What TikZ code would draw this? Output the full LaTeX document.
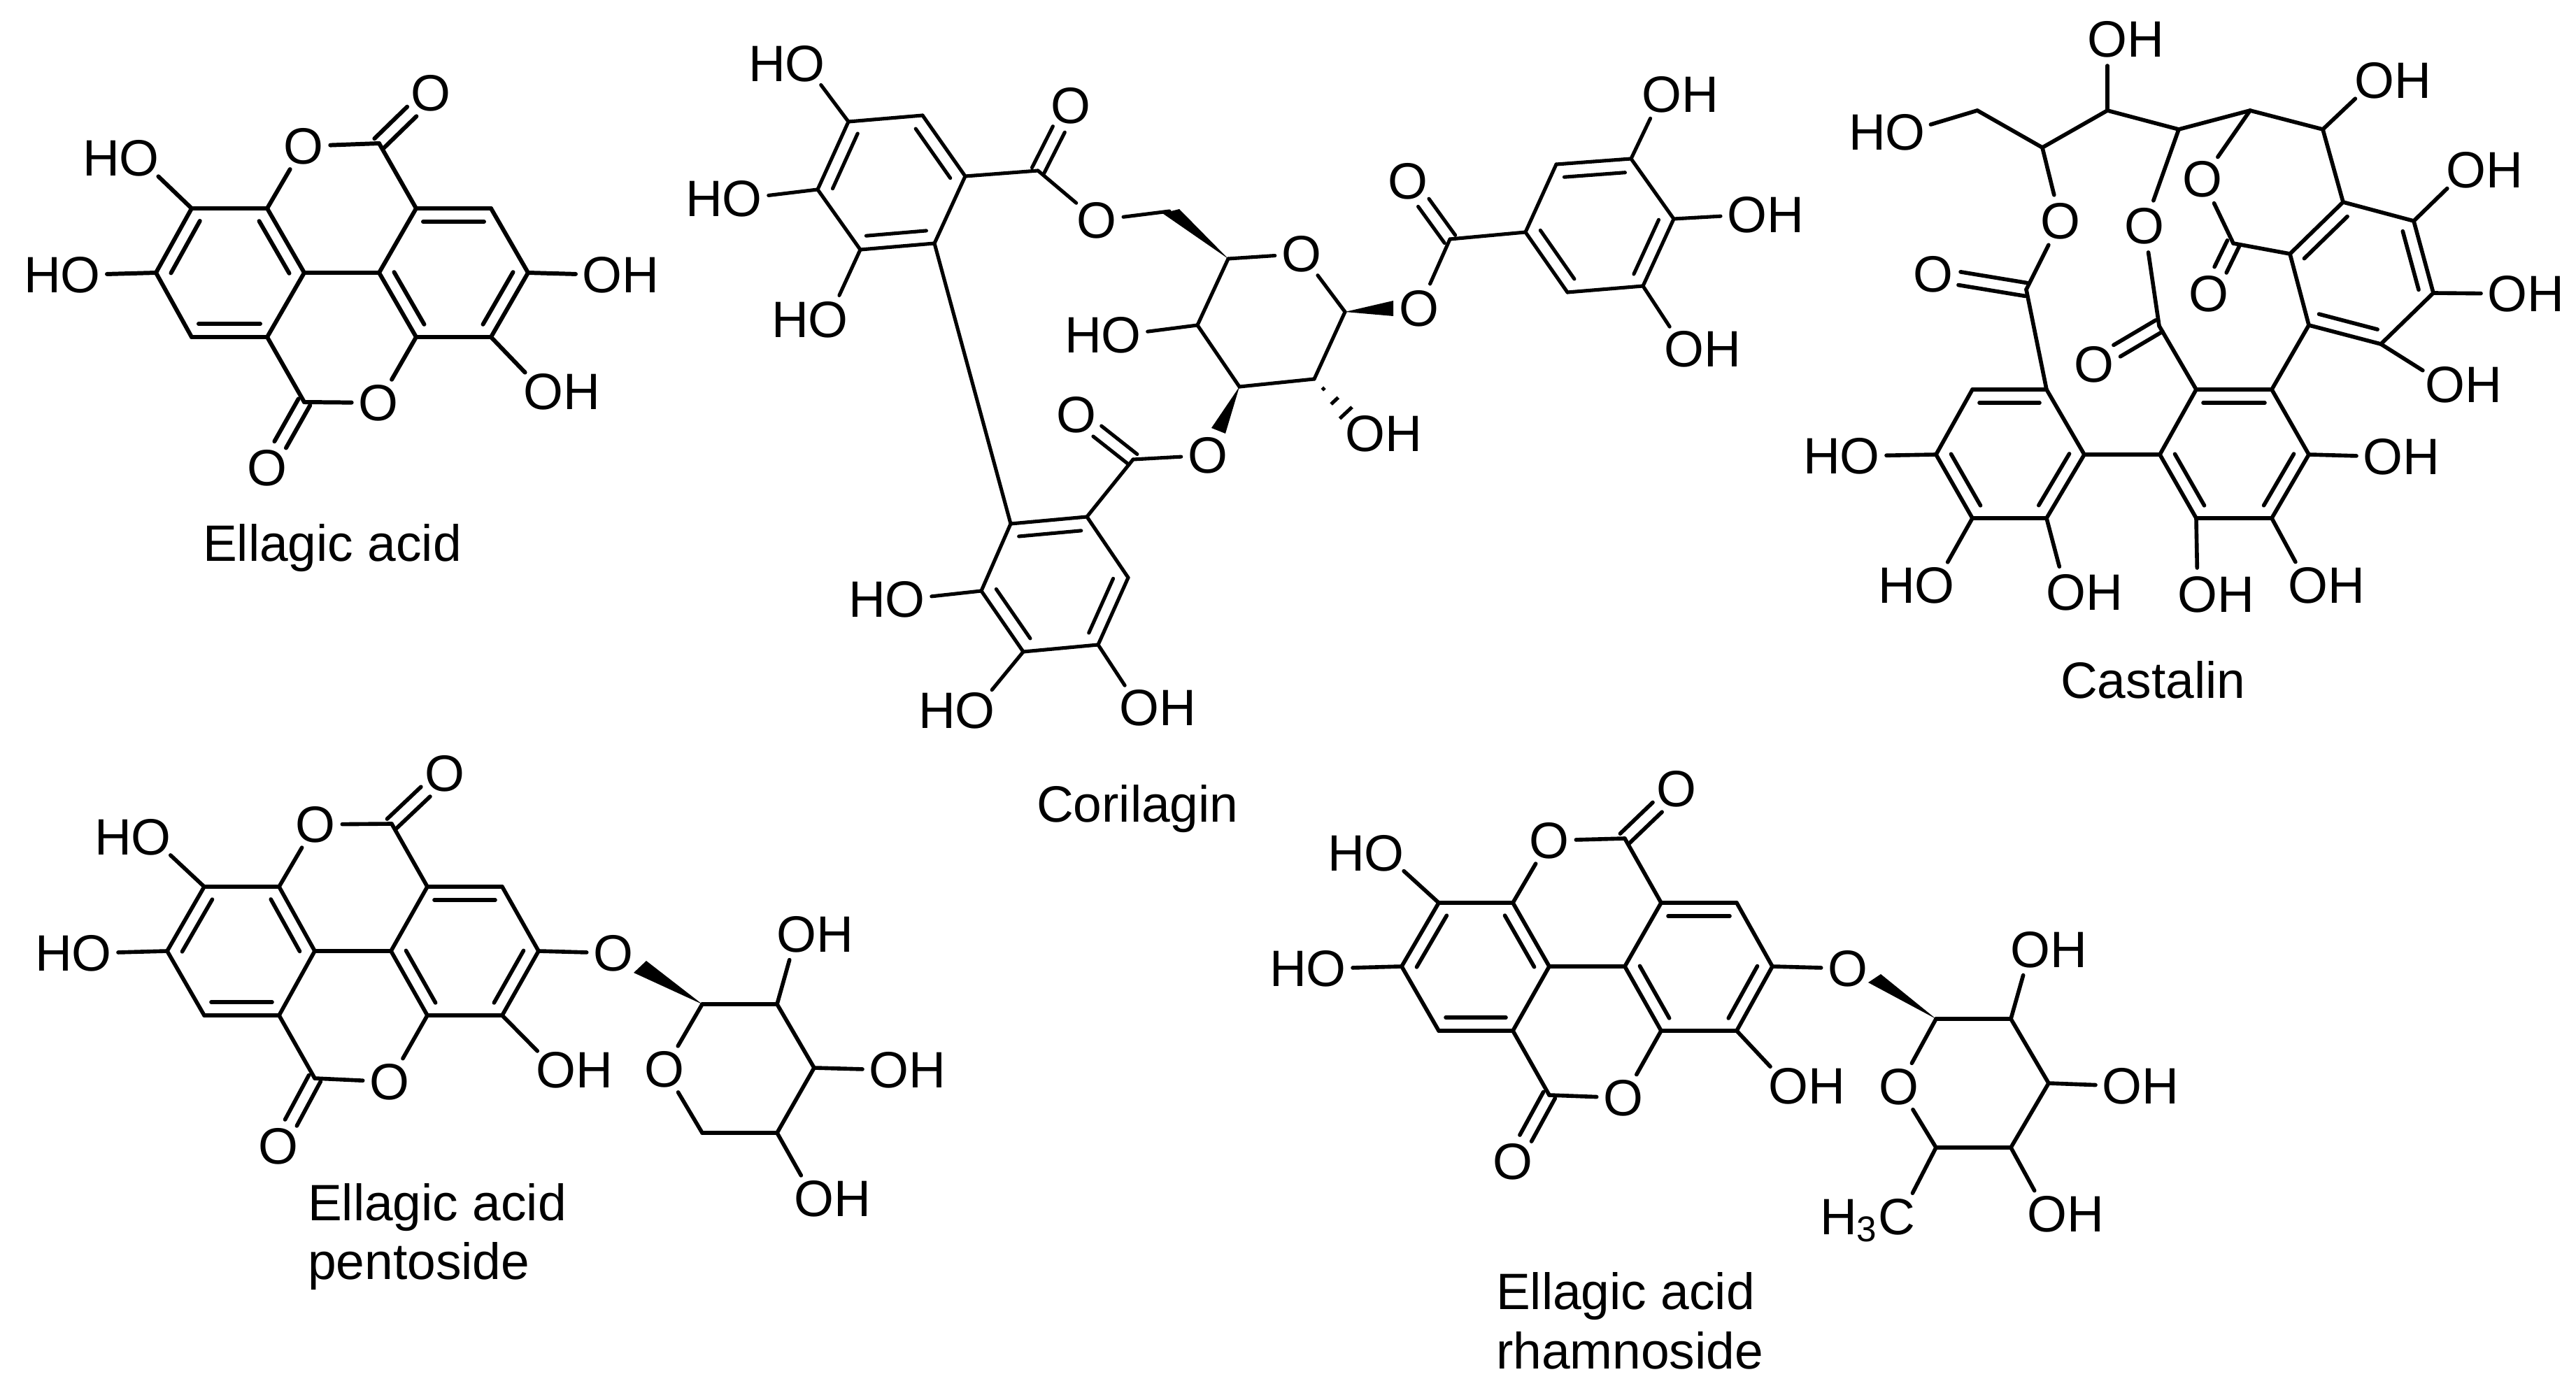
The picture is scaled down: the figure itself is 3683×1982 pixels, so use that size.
\documentclass[tikz,border=0pt]{standalone}
\usepackage{fontspec}
\setmainfont{Liberation Sans}
\usetikzlibrary{calc}
\tikzset{
  bond/.style={line width=1.6pt,line cap=round,line join=round},
  atomgap/.style={circle,inner sep=0pt,outer sep=0pt,minimum size=0.76cm},
  chem/.style={font=\fontsize{20.8}{24}\selectfont,inner sep=0pt,outer sep=0pt},
  caption/.style={font=\fontsize{20.8}{24}\selectfont,inner sep=0pt,outer sep=0pt,anchor=base west},
  wedgefill/.style={fill=black,draw=none}
}
\newcommand\vt[3]{\coordinate (#1) at (#2,#3);}
\newcommand\Oat[3]{\node[chem,atomgap] (#1) at (#2,#3) {O};}
\newcommand\OHat[3]{\node[atomgap] (#1) at (#2,#3) {};\node[chem,xshift=.26cm] (#1t) at (#2,#3) {OH};}
\newcommand\HOat[3]{\node[atomgap] (#1) at (#2,#3) {};\node[chem,xshift=-.26cm] (#1t) at (#2,#3) {HO};}
\newcommand\bd[2]{\draw[bond] (#1) -- (#2);}
\newcommand\ib[2]{\draw[bond,shorten <=.1cm,shorten >=.1cm] ($(#1)!.19cm!-90:(#2)$) -- ($(#2)!.19cm!90:(#1)$);}
\newcommand\dbo[2]{%
  \draw[bond,shorten >=.38cm] ($(#1.center)!.095cm!90:(#2.center)$) -- ($(#2.center)!.095cm!-90:(#1.center)$);%
  \draw[bond,shorten >=.38cm] ($(#1.center)!.095cm!-90:(#2.center)$) -- ($(#2.center)!.095cm!90:(#1.center)$);}
\newcommand\EAbonds[1]{%
  \bd{#1A}{#1B}\bd{#1B}{#1C}\bd{#1C}{#1D}\bd{#1D}{#1E}\bd{#1E}{#1F}\bd{#1F}{#1A}%
  \ib{#1F}{#1A}\ib{#1B}{#1C}\ib{#1D}{#1E}%
  \bd{#1G}{#1H}\bd{#1H}{#1I}\bd{#1I}{#1J}\bd{#1J}{#1K}\bd{#1K}{#1L}\bd{#1L}{#1G}%
  \ib{#1G}{#1H}\ib{#1I}{#1J}\ib{#1K}{#1L}%
  \bd{#1C}{#1L}%
  \bd{#1B}{#1Oa}\bd{#1Oa}{#1Ca}\bd{#1Ca}{#1G}\dbo{#1Ca}{#1Oc}%
  \bd{#1K}{#1Ob}\bd{#1Ob}{#1Cb}\bd{#1Cb}{#1D}\dbo{#1Cb}{#1Od}%
  \bd{#1A}{#1HOa}\bd{#1F}{#1HOb}\bd{#1J}{#1OHb}}
\begin{document}
\begin{tikzpicture}[x=0.01cm,y=-0.01cm]
\fill[white] (0,0) rectangle (3683,1982);
\useasboundingbox (0,0) rectangle (3683,1982);

% ---------- Ellagic acid
\begin{scope}[bond/.append style={line width=1.7pt}]
\vt{eA}{274}{298}\vt{eB}{382}{298}\vt{eC}{435}{390}\vt{eD}{382}{482}\vt{eE}{274}{482}\vt{eF}{223}{390}
\vt{eG}{595}{298}\vt{eH}{702}{298}\vt{eI}{755}{390}\vt{eJ}{702}{482}\vt{eK}{595}{482}\vt{eL}{542}{390}
\vt{eCa}{542}{205}\vt{eCb}{435}{575}
\Oat{eOa}{434}{209}\Oat{eOb}{541}{576}\Oat{eOc}{616}{133}\Oat{eOd}{382}{669}
\HOat{eHOa}{199}{226}\HOat{eHOb}{115}{393}\OHat{eOHa}{861}{393}\OHat{eOHb}{777}{560}
\EAbonds{e}
\bd{eI}{eOHa}
\end{scope}
\node[caption] (ecap) at (290,802) {Ellagic acid};

% ---------- Corilagin
\begin{scope}[bond/.append style={line width=1.45pt}]
\vt{ca}{1213}{174}\vt{cb}{1319}{165}\vt{cc}{1380}{252}\vt{cd}{1336}{348}\vt{ce}{1230}{357}\vt{cf}{1169}{271}
\vt{cg}{1445}{749}\vt{ch}{1554}{739}\vt{ci}{1613}{826}\vt{cj}{1570}{922}\vt{ck}{1463}{932}\vt{cl}{1403}{845}
\vt{cC}{1484}{244}\vt{cCb}{1620}{657}\vt{cCc}{2073}{342}
\vt{cH}{1672}{302}\vt{cWa}{1662}{305}\vt{cWb}{1686}{299}
\vt{cR1}{1756}{370}\vt{cR2}{1712}{465}\vt{cR3}{1772}{553}\vt{cR5}{1879}{542}\vt{cR6}{1923}{446}
\vt{cXa}{1732}{612}\vt{cXb}{1752}{620}\vt{cYa}{1992}{430}\vt{cYb}{1992}{452}
\vt{cu1}{2181}{332}\vt{cu2}{2225}{235}\vt{cu3}{2332}{227}\vt{cu4}{2393}{313}\vt{cu5}{2349}{409}\vt{cu6}{2241}{418}
\Oat{cO1}{1531}{151}\Oat{cO2}{1568}{315}\Oat{cO3}{1539}{593}\Oat{cO4}{1727}{651}\Oat{cO5}{1861}{363}\Oat{cO6}{2029}{441}\Oat{cO7}{2013}{259}
\HOat{cHa}{1151}{91}\HOat{cHb}{1061}{284}\HOat{cHc}{1184}{457}\HOat{cHd}{1603}{479}
\HOat{cHe}{1294}{857}\HOat{cHf}{1394}{1016}\OHat{cHg}{1629}{1012}
\OHat{cHh}{1952}{620}\OHat{cHi}{2376}{135}\OHat{cHj}{2498}{307}\OHat{cHk}{2408}{499}
\bd{ca}{cb}\bd{cb}{cc}\bd{cc}{cd}\bd{cd}{ce}\bd{ce}{cf}\bd{cf}{ca}\ib{cf}{ca}\ib{cb}{cc}\ib{cd}{ce}
\bd{cg}{ch}\bd{ch}{ci}\bd{ci}{cj}\bd{cj}{ck}\bd{ck}{cl}\bd{cl}{cg}\ib{cg}{ch}\ib{ci}{cj}\ib{ck}{cl}
\bd{cu1}{cu2}\bd{cu2}{cu3}\bd{cu3}{cu4}\bd{cu4}{cu5}\bd{cu5}{cu6}\bd{cu6}{cu1}\ib{cu2}{cu3}\ib{cu4}{cu5}\ib{cu6}{cu1}
\bd{ca}{cHa}\bd{cf}{cHb}\bd{ce}{cHc}\bd{cd}{cg}
\bd{cl}{cHe}\bd{ck}{cHf}\bd{cj}{cHg}
\bd{cc}{cC}\dbo{cC}{cO1}\bd{cC}{cO2}\bd{cO2}{cH}
\fill[wedgefill] (cWa) -- (cWb) -- (cR1) -- cycle;
\bd{cR1}{cO5}\bd{cO5}{cR6}\bd{cR6}{cR5}\bd{cR5}{cR3}\bd{cR3}{cR2}\bd{cR2}{cR1}
\bd{cR2}{cHd}
\fill[wedgefill] (cR3) -- (cXa) -- (cXb) -- cycle;
\bd{cO4}{cCb}\bd{cCb}{ch}\dbo{cCb}{cO3}
\fill[wedgefill] (cR6) -- (cYa) -- (cYb) -- cycle;
\bd{cO6}{cCc}\dbo{cCc}{cO7}\bd{cCc}{cu1}
\bd{cu3}{cHi}\bd{cu4}{cHj}\bd{cu5}{cHk}
\foreach \t/\w in {.18/.025cm,.40/.07cm,.62/.12cm}
  \draw[bond,line cap=butt] ($(cR5)!\t!(cHh.center)!\w!90:(cHh.center)$) -- ($(cR5)!\t!(cHh.center)!\w!-90:(cHh.center)$);
\end{scope}
\node[caption] (ccap) at (1482,1175) {Corilagin};

% ---------- Castalin
\vt{tp1}{2820}{557}\vt{tp2}{2926}{557}\vt{tp3}{2980}{650}\vt{tp4}{2926}{741}\vt{tp5}{2820}{741}\vt{tp6}{2768}{650}
\vt{tq1}{3140}{557}\vt{tq2}{3248}{557}\vt{tq3}{3301}{650}\vt{tq4}{3248}{741}\vt{tq5}{3140}{741}\vt{tq6}{3088}{650}
\vt{tr1}{3350}{289}\vt{tr2}{3451}{316}\vt{tr3}{3479}{419}\vt{tr4}{3404}{492}\vt{tr5}{3301}{465}\vt{tr6}{3274}{363}
\vt{tc1}{2827}{158}\vt{tc2}{2920}{211}\vt{tc3}{3013}{158}\vt{tc4}{3115}{185}\vt{tc5}{3217}{158}\vt{tc6}{3321}{185}
\vt{tCa}{2897}{414}\vt{tCb}{3087}{466}\vt{tCc}{3193}{348}
\Oat{tOa}{2946}{316}\Oat{tOb}{2764}{392}\Oat{tOc}{3066}{323}\Oat{tOd}{2994}{521}\Oat{tOe}{3149}{256}\Oat{tOf}{3158}{420}
\HOat{tHa}{2724}{189}\OHat{tHb}{3013}{56}\OHat{tHc}{3395}{115}\OHat{tHd}{3526}{243}\OHat{tHe}{3585}{420}\OHat{tHf}{3496}{550}
\OHat{tHg}{3407}{653}\OHat{tHh}{3300}{837}\OHat{tHi}{3142}{850}\OHat{tHj}{2954}{847}\HOat{tHk}{2766}{837}\HOat{tHl}{2659}{652}
\bd{tp1}{tp2}\bd{tp2}{tp3}\bd{tp3}{tp4}\bd{tp4}{tp5}\bd{tp5}{tp6}\bd{tp6}{tp1}\ib{tp1}{tp2}\ib{tp3}{tp4}\ib{tp5}{tp6}
\bd{tq1}{tq2}\bd{tq2}{tq3}\bd{tq3}{tq4}\bd{tq4}{tq5}\bd{tq5}{tq6}\bd{tq6}{tq1}\ib{tq1}{tq2}\ib{tq3}{tq4}\ib{tq5}{tq6}
\bd{tr1}{tr2}\bd{tr2}{tr3}\bd{tr3}{tr4}\bd{tr4}{tr5}\bd{tr5}{tr6}\bd{tr6}{tr1}\ib{tr6}{tr1}\ib{tr2}{tr3}\ib{tr4}{tr5}
\bd{tp3}{tq6}\bd{tr5}{tq2}
\bd{tHa}{tc1}\bd{tc1}{tc2}\bd{tc2}{tc3}\bd{tc3}{tc4}\bd{tc4}{tc5}\bd{tc5}{tc6}\bd{tc6}{tr1}
\bd{tc3}{tHb}\bd{tc6}{tHc}
\bd{tc2}{tOa}\bd{tOa}{tCa}\dbo{tCa}{tOb}\bd{tCa}{tp2}
\bd{tc4}{tOc}\bd{tOc}{tCb}\dbo{tCb}{tOd}\bd{tCb}{tq1}
\bd{tc5}{tOe}\bd{tOe}{tCc}\dbo{tCc}{tOf}\bd{tCc}{tr6}
\bd{tr2}{tHd}\bd{tr3}{tHe}\bd{tr4}{tHf}\bd{tq3}{tHg}\bd{tq4}{tHh}\bd{tq5}{tHi}\bd{tp4}{tHj}\bd{tp5}{tHk}\bd{tp6}{tHl}
\node[caption] (tcap) at (2946,998) {Castalin};

% ---------- Ellagic acid pentoside
\vt{pA}{292}{1268}\vt{pB}{399}{1268}\vt{pC}{450}{1360}\vt{pD}{399}{1452}\vt{pE}{292}{1452}\vt{pF}{239}{1360}
\vt{pG}{611}{1268}\vt{pH}{718}{1268}\vt{pI}{770}{1360}\vt{pJ}{718}{1452}\vt{pK}{611}{1452}\vt{pL}{559}{1360}
\vt{pCa}{560}{1178}\vt{pCb}{450}{1542}
\Oat{pOa}{451}{1179}\Oat{pOb}{557}{1547}\Oat{pOc}{636}{1106}\Oat{pOd}{398}{1639}
\HOat{pHOa}{216}{1197}\HOat{pHOb}{131}{1363}\OHat{pOHb}{795}{1530}
\Oat{pOs}{877}{1363}
\EAbonds{p}
\bd{pI}{pOs}
\vt{pS1}{1004}{1436}\vt{pS2}{1111}{1436}\vt{pS3}{1164}{1527}\vt{pS4}{1111}{1620}\vt{pS5}{1004}{1620}
\vt{pWa}{906}{1391}\vt{pWb}{924}{1374}
\Oat{pOr}{950}{1529}
\OHat{pH2}{1139}{1336}\OHat{pH3}{1271}{1530}\OHat{pH4}{1164}{1714}
\fill[wedgefill] (pS1) -- (pWa) -- (pWb) -- cycle;
\bd{pS1}{pS2}\bd{pS2}{pS3}\bd{pS3}{pS4}\bd{pS4}{pS5}\bd{pS5}{pOr}\bd{pOr}{pS1}
\bd{pS2}{pH2}\bd{pS3}{pH3}\bd{pS4}{pH4}
\node[caption] (pcap1) at (440,1745) {Ellagic acid};
\node[caption] (pcap2) at (440,1829) {pentoside};

% ---------- Ellagic acid rhamnoside
\vt{rA}{2057}{1291}\vt{rB}{2163}{1291}\vt{rC}{2215}{1382}\vt{rD}{2163}{1474}\vt{rE}{2057}{1474}\vt{rF}{2004}{1382}
\vt{rG}{2375}{1291}\vt{rH}{2483}{1291}\vt{rI}{2534}{1382}\vt{rJ}{2483}{1474}\vt{rK}{2375}{1474}\vt{rL}{2323}{1382}
\vt{rCa}{2323}{1199}\vt{rCb}{2215}{1566}
\Oat{rOa}{2215}{1202}\Oat{rOb}{2321}{1570}\Oat{rOc}{2397}{1128}\Oat{rOd}{2163}{1661}
\HOat{rHOa}{1979}{1220}\HOat{rHOb}{1896}{1385}\OHat{rOHb}{2557}{1553}
\Oat{rOs}{2642}{1385}
\EAbonds{r}
\bd{rI}{rOs}
\vt{rS1}{2768}{1457}\vt{rS2}{2875}{1457}\vt{rS3}{2929}{1549}\vt{rS4}{2875}{1641}\vt{rS5}{2768}{1641}
\vt{rWa}{2671}{1405}\vt{rWb}{2689}{1393}
\Oat{rOr}{2715}{1554}
\OHat{rH2}{2903}{1358}\OHat{rH3}{3034}{1553}\OHat{rH4}{2927}{1736}
\node[atomgap] (rMe) at (2717,1740) {};
\node[chem,anchor=base east] (rMet) at (2738,1765) {H\textsubscript{3}C};
\fill[wedgefill] (rS1) -- (rWa) -- (rWb) -- cycle;
\bd{rS1}{rS2}\bd{rS2}{rS3}\bd{rS3}{rS4}\bd{rS4}{rS5}\bd{rS5}{rOr}\bd{rOr}{rS1}
\bd{rS2}{rH2}\bd{rS3}{rH3}\bd{rS4}{rH4}\bd{rS5}{rMe}
\node[caption] (rcap1) at (2139,1872) {Ellagic acid};
\node[caption] (rcap2) at (2139,1957) {rhamnoside};
\end{tikzpicture}
\end{document}
